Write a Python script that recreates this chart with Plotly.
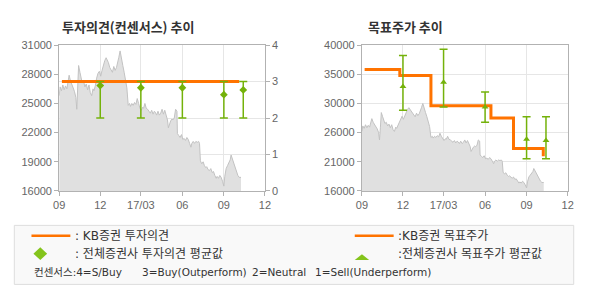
import plotly.graph_objects as go

W, H = 590, 300
def px(x):
    return x / W
def py(y):
    return 1 - y / H

# ---------------- data ----------------
price_dates = [
    "2016-09-01","2016-09-03","2016-09-06","2016-09-09","2016-09-12","2016-09-15","2016-09-18","2016-09-21",
    "2016-09-23","2016-09-26","2016-09-29","2016-10-02","2016-10-05","2016-10-08","2016-10-10","2016-10-12",
    "2016-10-14","2016-10-17","2016-10-20","2016-10-22","2016-10-25","2016-10-28","2016-10-31","2016-11-03",
    "2016-11-06","2016-11-09","2016-11-12","2016-11-15","2016-11-17","2016-11-20","2016-11-23","2016-11-26",
    "2016-11-29","2016-12-02","2016-12-05","2016-12-08","2016-12-11","2016-12-14","2016-12-16","2016-12-19",
    "2016-12-22","2016-12-25","2016-12-28","2016-12-31","2017-01-03","2017-01-06","2017-01-09","2017-01-11",
    "2017-01-14","2017-01-17","2017-01-20","2017-01-23","2017-01-26","2017-01-29","2017-02-01","2017-02-04",
    "2017-02-06","2017-02-09","2017-02-12","2017-02-15","2017-02-18","2017-02-21","2017-02-24","2017-02-27",
    "2017-03-02","2017-03-05","2017-03-07","2017-03-10","2017-03-13","2017-03-16","2017-03-19","2017-03-22",
    "2017-03-25","2017-03-28","2017-03-31","2017-04-02","2017-04-05","2017-04-08","2017-04-11","2017-04-14",
    "2017-04-17","2017-04-20","2017-04-23","2017-04-26","2017-04-29","2017-05-01","2017-05-03","2017-05-06",
    "2017-05-09","2017-05-11","2017-05-14","2017-05-17","2017-05-20","2017-05-21","2017-05-24","2017-05-27",
    "2017-05-30","2017-06-02","2017-06-05","2017-06-08","2017-06-11","2017-06-14","2017-06-17","2017-06-20",
    "2017-06-22","2017-06-25","2017-06-28","2017-07-01","2017-07-04","2017-07-07","2017-07-09","2017-07-11",
    "2017-07-14","2017-07-17","2017-07-20","2017-07-23","2017-07-25","2017-07-28","2017-07-31","2017-08-03",
    "2017-08-06","2017-08-09","2017-08-12","2017-08-15","2017-08-17","2017-08-20","2017-08-23","2017-08-26",
    "2017-08-29","2017-09-01","2017-09-03","2017-09-06","2017-09-09","2017-09-12","2017-09-15","2017-09-17",
    "2017-09-20","2017-09-23","2017-09-26","2017-09-29","2017-10-02","2017-10-05","2017-10-09",
]
price_values = [
    25800,26700,26300,26900,26400,26800,26500,27200,
    27900,27300,27000,26600,26200,25600,24400,26500,
    28900,28200,27400,27100,27300,26700,27000,26400,
    26900,26100,25800,26500,26300,26800,27600,28100,
    28300,27800,28400,29000,29400,29700,29500,29200,
    28700,28400,28200,28800,28400,28700,29200,29700,
    30400,29800,28900,28200,27100,26600,24800,25000,
    24700,25000,24800,25100,24900,25500,25000,24500,
    24300,24600,24500,25000,24500,24400,24200,24000,
    24300,23900,24200,24100,23800,24200,23800,24000,
    24400,23900,24300,23700,23300,22500,22900,23200,
    23400,23300,23500,24400,24200,21900,21700,21500,
    21800,21300,21400,21200,21500,21300,20900,20500,
    20900,21100,20900,21100,21000,21100,20900,19100,
    18800,19000,18600,18400,18500,18200,18100,18300,
    17900,18000,17600,17300,17500,17300,17600,17400,
    17000,16500,17500,18300,18600,18900,19200,19700,
    19300,18800,18300,18100,17600,17400,17400,
]

# KB investment opinion (rating)
rating_dates = ["2016-09-07", "2017-10-05"]
rating_values = [3, 3]

# consensus rating (average, max, min)
cons_dates = ["2016-12-01", "2017-03-01", "2017-06-01", "2017-09-01", "2017-10-14"]
cons_avg = [2.89, 2.83, 2.83, 2.64, 2.77]
cons_max = [3, 3, 3, 3, 3]
cons_min = [2, 2, 2, 2, 2]

# KB target price (step)
tp_dates = ["2016-09-07", "2016-11-24", "2017-02-01", "2017-06-14", "2017-08-03", "2017-10-08"]
tp_values = [36000, 35000, 30000, 28000, 23000, 21700]

# consensus target price (average, max, min)
tpc_dates = ["2016-12-01", "2017-03-01", "2017-06-01", "2017-09-01", "2017-10-14"]
tpc_avg = [33200, 33900, 29800, 24500, 24300]
tpc_max = [38300, 39300, 32300, 28200, 28200]
tpc_min = [29300, 29800, 27300, 21300, 21300]

x_tick_vals = ["2016-09-01", "2016-12-01", "2017-03-01", "2017-06-01", "2017-09-01", "2017-12-01"]
x_tick_text = ["09", "12", "17/03", "06", "09", "12"]
left_y_ticks = [16000, 19000, 22000, 25000, 28000, 31000]
left_y_text = ["16000", "19000", "22000", "25000", "28000", "31000"]
rating_ticks = [0, 1, 2, 3, 4]
tp_y_tickvals = [16000, 20800, 25600, 30400, 35200, 40000]
tp_y_ticktext = ["16000", "21000", "26000", "30000", "35000", "40000"]

# ---------------- styles ----------------
ORANGE = "#ff7300"
GREEN = "#74b20a"
AREA_FILL = "#e0e0e0"
AREA_LINE = "#c2c2c2"
GRID = "#e6e6e6"
AXIS = "#b2b2b2"
TICKFONT = dict(family="Liberation Sans, Arial, sans-serif", size=11, color="#666666")
KFONT = "DejaVu Sans, Noto Sans CJK KR, sans-serif"
TFONT = "Noto Sans CJK KR, sans-serif"

fig = go.Figure()

# ---- left chart ----
fig.add_trace(go.Scatter(x=price_dates, y=price_values, xaxis="x", yaxis="y",
                         mode="lines", fill="tozeroy", fillcolor=AREA_FILL,
                         line=dict(color=AREA_LINE, width=1), showlegend=False))
fig.add_trace(go.Scatter(x=rating_dates, y=rating_values, xaxis="x", yaxis="y2",
                         mode="lines", line=dict(color=ORANGE, width=3), showlegend=False))
fig.add_trace(go.Scatter(
    x=cons_dates, y=cons_avg, xaxis="x", yaxis="y2", mode="markers",
    marker=dict(symbol="diamond", size=6, color=GREEN),
    error_y=dict(type="data", symmetric=False,
                 array=[mx - a for mx, a in zip(cons_max, cons_avg)],
                 arrayminus=[a - mn for mn, a in zip(cons_min, cons_avg)],
                 color=GREEN, thickness=1.5, width=4),
    showlegend=False))

# ---- right chart ----
fig.add_trace(go.Scatter(x=price_dates, y=price_values, xaxis="x2", yaxis="y3",
                         mode="lines", fill="tozeroy", fillcolor=AREA_FILL,
                         line=dict(color=AREA_LINE, width=1), showlegend=False))
fig.add_trace(go.Scatter(x=tp_dates, y=tp_values, xaxis="x2", yaxis="y3",
                         mode="lines", line=dict(color=ORANGE, width=3, shape="hv"),
                         showlegend=False))
fig.add_trace(go.Scatter(
    x=tpc_dates, y=tpc_avg, xaxis="x2", yaxis="y3", mode="markers",
    marker=dict(symbol="triangle-up", size=6, color=GREEN),
    error_y=dict(type="data", symmetric=False,
                 array=[mx - a for mx, a in zip(tpc_max, tpc_avg)],
                 arrayminus=[a - mn for mn, a in zip(tpc_min, tpc_avg)],
                 color=GREEN, thickness=1.5, width=4),
    showlegend=False))

xcommon = dict(type="date", range=["2016-09-01", "2017-12-01"], tickvals=x_tick_vals,
               ticktext=x_tick_text, showgrid=True, gridcolor=GRID, gridwidth=1,
               showline=True, linecolor=AXIS, linewidth=1, mirror=True,
               ticks="outside", ticklen=4, tickcolor=AXIS, tickfont=TICKFONT,
               zeroline=False)
ydom = [py(192.7), py(40.7)]

fig.update_layout(
    width=W, height=H, margin=dict(l=0, r=0, t=0, b=0),
    paper_bgcolor="white", plot_bgcolor="white",
    showlegend=False,
    xaxis=dict(domain=[px(54.3), px(264.3)], anchor="y", **xcommon),
    yaxis=dict(domain=ydom, anchor="x", range=[16000, 31000], tickvals=left_y_ticks,
               ticktext=left_y_text,
               showgrid=False, showline=True, linecolor=AXIS, mirror=True,
               ticks="outside", ticklen=4, tickcolor=AXIS, tickfont=TICKFONT,
               zeroline=False),
    yaxis2=dict(overlaying="y", side="right", anchor="x", range=[0, 4],
                tickvals=rating_ticks, ticktext=[str(v) for v in rating_ticks],
                showgrid=True, gridcolor=GRID,
                showline=True, linecolor=AXIS, ticks="outside", ticklen=4,
                tickcolor=AXIS, tickfont=TICKFONT, zeroline=False),
    xaxis2=dict(domain=[px(363.3), px(573.3)], anchor="y3", **xcommon),
    yaxis3=dict(domain=ydom, anchor="x2", range=[16000, 40000], tickvals=tp_y_tickvals,
                ticktext=tp_y_ticktext, showgrid=True, gridcolor=GRID,
                showline=True, linecolor=AXIS, mirror=True,
                ticks="outside", ticklen=4, tickcolor=AXIS, tickfont=TICKFONT,
                zeroline=False),
)

# ---- titles ----
fig.add_annotation(x=px(55), y=py(21.5), xref="paper", yref="paper", xanchor="left",
                   yanchor="middle", showarrow=False, text="<b>투자의견(컨센서스) 추이</b>",
                   font=dict(family=TFONT, size=13, color="#333333"))
fig.add_annotation(x=px(367), y=py(21), xref="paper", yref="paper", xanchor="left",
                   yanchor="middle", showarrow=False, text="<b>목표주가 추이</b>",
                   font=dict(family=TFONT, size=13, color="#333333"))

# ---- legend box ----
fig.add_shape(type="rect", xref="paper", yref="paper",
              x0=px(8.5), x1=px(579.5), y0=py(290), y1=py(228.5),
              line=dict(color="#dddddd", width=1), fillcolor="#f9f9f9", layer="below")
for x0, x1 in [(26, 65.7), (356, 395.7)]:
    fig.add_shape(type="line", xref="paper", yref="paper", x0=px(x0), x1=px(x1),
                  y0=py(239.3), y1=py(239.3), line=dict(color=ORANGE, width=2.5))
cx, cy = 35, 258
fig.add_shape(type="path", xref="paper", yref="paper",
              path=f"M {px(cx)},{py(cy-6.7)} L {px(cx+7)},{py(cy)} L {px(cx)},{py(cy+6.7)} L {px(cx-7)},{py(cy)} Z",
              fillcolor="#84c41c", line=dict(width=0))
fig.add_shape(type="path", xref="paper", yref="paper",
              path=f"M {px(356)},{py(264.7)} L {px(370.7)},{py(264.7)} L {px(363.3)},{py(258.7)} Z",
              fillcolor="#84c41c", line=dict(width=0))

LFONT = dict(family=KFONT, size=12, color="#333333")
SFONT = dict(family=KFONT, size=10.5, color="#333333")
legend_texts = [
    (68.3, 240, ": KB증권 투자의견", LFONT),
    (68.3, 258, ": 전체증권사 투자의견 평균값", LFONT),
    (398.3, 240, ":KB증권 목표주가", LFONT),
    (398.3, 258, ":전체증권사 목표주가 평균값", LFONT),
    (26.7, 276.7, "컨센서스:4=S/Buy", SFONT),
    (136.7, 276.7, "3=Buy(Outperform)", SFONT),
    (249, 276.7, "2=Neutral", SFONT),
    (313, 276.7, "1=Sell(Underperform)", SFONT),
]
for x, y, t, f in legend_texts:
    fig.add_annotation(x=px(x), y=py(y), xref="paper", yref="paper", xanchor="left",
                       yanchor="middle", showarrow=False, text=t, font=f)

fig.write_html("out.html")
